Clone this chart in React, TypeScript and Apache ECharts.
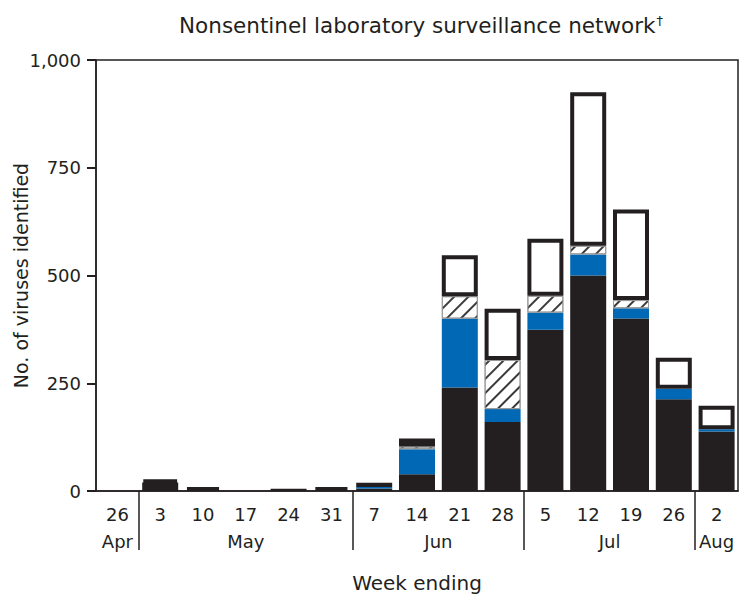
import React, { useEffect, useRef } from 'react';
import * as echarts from 'echarts';

// Week-ending dates (2009)
const weeks = ['Apr 26', 'May 3', 'May 10', 'May 17', 'May 24', 'May 31', 'Jun 7', 'Jun 14', 'Jun 21', 'Jun 28', 'Jul 5', 'Jul 12', 'Jul 19', 'Jul 26', 'Aug 2'];
const months = ['Apr', 'May', 'Jun', 'Jul', 'Aug'];
// month label centres and separators, in category units (category i spans i..i+1)
const monthCenters = [0.5, 3.5, 8, 12, 14.5];
const monthBounds = [1, 6, 10, 14];

// Stacked segments (number of viruses identified)
const blackVals = [null, 20, null, null, 5, null, 6, 39, 240, 160, 374, 500, 400, 213, 138];
const blueVals = [null, null, null, null, null, null, 3, 58, 160, 30, 40, 49, 24, 24, 5];
const hatchVals = [null, null, null, null, null, null, null, 6, 52, 114, 39, 20, 19, null, null];
const whiteVals = [null, 5, 9, null, null, 9, 10, 19, 95, 119, 132, 356, 210, 72, 55];

const yMax = 1000;
const yStep = 250;

const FONT = 'DejaVu Sans';
const INK = '#231f20';
const BLUE = '#0068b4';

export default function App() {
  const ref = useRef<HTMLDivElement>(null);

  useEffect(() => {
    if (!ref.current) return;
    const chart = echarts.init(ref.current, null, { renderer: 'svg' });
    const monthFor = (v: number) => {
      const i = monthCenters.findIndex((c) => Math.abs(c - v) < 1e-6);
      return i >= 0 ? months[i] : '';
    };
    const common = { type: 'bar', stack: 'total', barWidth: 36 };
    chart.setOption({
      animation: false,
      backgroundColor: '#fff',
      textStyle: { fontFamily: FONT, color: INK },
      title: {
        text: '{a|Nonsentinel laboratory surveillance network}{b|†}',
        left: 416,
        top: 9,
        textAlign: 'center',
        textStyle: {
          fontWeight: 'normal',
          rich: {
            a: { fontFamily: FONT, fontSize: 21.5, fontWeight: 'normal', color: INK },
            b: { fontFamily: FONT, fontSize: 13, fontWeight: 'normal', color: INK, padding: [0, 0, 10, 1] },
          },
        },
      },
      grid: {
        left: 96,
        right: 2,
        top: 60,
        bottom: 105,
        show: true,
        borderColor: INK,
        borderWidth: 1.5,
        backgroundColor: 'transparent',
        outerBoundsMode: 'none',
        containLabel: false,
      },
      xAxis: [
        {
          type: 'category',
          data: weeks,
          position: 'bottom',
          name: 'Week ending',
          nameLocation: 'middle',
          nameGap: 82,
          nameTextStyle: { fontFamily: FONT, fontSize: 20, color: INK },
          axisLine: { lineStyle: { color: INK, width: 1.5 } },
          axisTick: { alignWithLabel: true, length: 9, lineStyle: { color: INK, width: 1.5 } },
          axisLabel: {
            interval: 0,
            margin: 14,
            fontFamily: FONT,
            fontSize: 18,
            color: INK,
            formatter: (v: string) => v.split(' ')[1],
          },
          splitLine: { show: false },
        },
        {
          type: 'value',
          min: 0,
          max: weeks.length,
          position: 'bottom',
          axisLine: { show: false },
          splitLine: { show: false },
          axisTick: {
            show: true,
            customValues: monthBounds,
            length: 59,
            lineStyle: { color: INK, width: 1.5 },
          },
          axisLabel: {
            show: true,
            customValues: monthCenters,
            margin: 41,
            fontFamily: FONT,
            fontSize: 18,
            color: INK,
            formatter: (v: number) => monthFor(v),
          },
        },
      ],
      yAxis: {
        type: 'value',
        min: 0,
        max: yMax,
        interval: yStep,
        name: 'No. of viruses identified',
        nameLocation: 'middle',
        nameRotate: 90,
        nameGap: 66,
        nameMoveOverlap: false,
        nameTextStyle: { fontFamily: FONT, fontSize: 19, color: INK },
        axisLine: { show: true, lineStyle: { color: INK, width: 1.5 } },
        axisTick: { show: true, length: 9, lineStyle: { color: INK, width: 2 } },
        axisLabel: {
          margin: 15,
          fontFamily: FONT,
          fontSize: 18,
          color: INK,
          formatter: (v: number) => v.toLocaleString('en-US'),
        },
        splitLine: { show: false },
      },
      series: [
        { ...common, name: 'Black', data: blackVals, itemStyle: { color: INK } },
        { ...common, name: 'Blue', data: blueVals, itemStyle: { color: BLUE } },
        {
          ...common,
          name: 'Hatched',
          data: hatchVals,
          itemStyle: {
            color: '#fff',
            borderColor: '#9a9a9a',
            borderWidth: 1,
            decal: {
              symbol: 'rect',
              symbolSize: 1,
              color: '#3a3a3a',
              dashArrayX: [1, 0],
              dashArrayY: [1.5, 8],
              rotation: -Math.PI / 4,
            },
          },
        },
        {
          ...common,
          name: 'White',
          data: whiteVals,
          itemStyle: { color: '#fff', borderColor: INK, borderWidth: 4 },
        },
      ],
    });
    return () => chart.dispose();
  }, []);

  return <div ref={ref} style={{ position: 'fixed', left: 0, top: 0, width: 740, height: 596 }} />;
}
